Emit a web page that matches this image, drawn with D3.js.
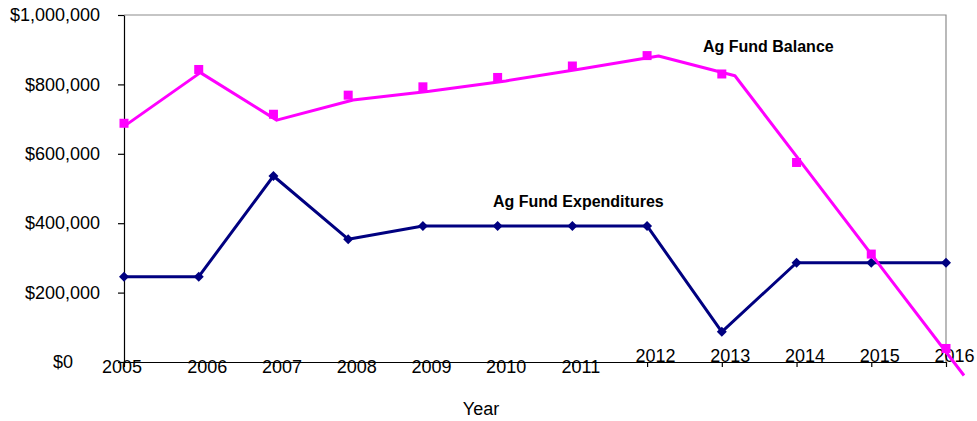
<!DOCTYPE html>
<html>
<head>
<meta charset="utf-8">
<script src="https://cdn.jsdelivr.net/npm/d3@7/dist/d3.min.js"></script>
<style>
  html, body { margin: 0; padding: 0; background: #fff; }
  svg { display: block; font-family: "Liberation Sans", Arial, sans-serif; }
</style>
</head>
<body>
<svg id="chart" width="977" height="421"></svg>
<script>
// ---- data ----
const years = [2005, 2006, 2007, 2008, 2009, 2010, 2011, 2012, 2013, 2014, 2015, 2016];
const expenditures = [246000, 246000, 536000, 354000, 392000, 392000, 392000, 392000, 87000, 286000, 286000, 286000];
const balanceMarkers = [688000, 843000, 714000, 769000, 793000, 820000, 853000, 883000, 830000, 575000, 311000, 39000];
const balanceLine = [679000, 834000, 697000, 755000, 780000, 810000, 845000, 882000, 825000, 537000, 249000, -39000];
const yTicks = [0, 200000, 400000, 600000, 800000, 1000000];
const labelBalance = "Ag Fund Balance";
const labelExpend = "Ag Fund Expenditures";
const xTitle = "Year";

// ---- layout ----
const plotL = 124, plotR = 946, plotT = 15, plotB = 362;
const svg = d3.select("#chart");

const x = d3.scaleLinear().domain([2005, 2016]).range([plotL, plotR]);
const xLine = d3.scaleLinear().domain([2005, 2016]).range([plotL, 964]);
const y = d3.scaleLinear().domain([0, 1000000]).range([plotB, plotT]);

// plot border (top & right, gray)
svg.append("path")
  .attr("d", `M${plotL},${plotT}H${plotR}V${plotB}`)
  .attr("fill", "none").attr("stroke", "#8c8c8c").attr("stroke-width", 1.2);

// y axis
const yAxis = svg.append("g")
  .attr("transform", `translate(${plotL},0)`)
  .call(d3.axisLeft(y).tickValues(yTicks).tickSize(6).tickSizeOuter(0).tickPadding(18)
    .tickFormat(d3.format("$,")));
yAxis.selectAll("text").attr("font-size", 18).attr("fill", "#000")
  .attr("font-family", "Liberation Sans, Arial, sans-serif")
  .attr("dx", d => d === 0 ? -27 : 0);
yAxis.selectAll("line, path").attr("stroke", "#000").attr("stroke-width", 1.2);

// x axis
const xAxis = svg.append("g")
  .attr("transform", `translate(0,${plotB})`)
  .call(d3.axisBottom(x).tickValues(years).tickSize(5).tickSizeOuter(0).tickFormat(d3.format("d")));
xAxis.selectAll("line, path").attr("stroke", "#000").attr("stroke-width", 1.2);
xAxis.selectAll("text")
  .attr("font-size", 18).attr("fill", "#000")
  .attr("font-family", "Liberation Sans, Arial, sans-serif")
  .attr("dy", null)
  .attr("dx", (d, i) => i === 0 ? -2.5 : 8)
  .attr("y", (d, i) => i < 7 ? 10.5 : 0);

// x title
svg.append("text").attr("x", 481).attr("y", 415).attr("text-anchor", "middle")
  .attr("font-size", 18).attr("fill", "#000").text(xTitle);

// expenditures line
svg.append("path")
  .datum(years.map((yr, i) => [yr, expenditures[i]]))
  .attr("fill", "none").attr("stroke", "#000080").attr("stroke-width", 3)
  .attr("stroke-linejoin", "round")
  .attr("d", d3.line().x(d => x(d[0])).y(d => y(d[1])));
svg.append("g").selectAll("path")
  .data(years.map((yr, i) => [yr, expenditures[i]]))
  .join("path")
  .attr("d", "M0,-5L5,0L0,5L-5,0Z")
  .attr("fill", "#000080")
  .attr("transform", d => `translate(${x(d[0])},${y(d[1])})`);

// balance markers
svg.append("g").selectAll("rect")
  .data(years.map((yr, i) => [yr, balanceMarkers[i]]))
  .join("rect")
  .attr("x", d => x(d[0]) - 4.5).attr("y", d => y(d[1]) - 4.5)
  .attr("width", 9).attr("height", 9)
  .attr("fill", "#ff00ff");

// balance line
svg.append("path")
  .datum(years.map((yr, i) => [yr, balanceLine[i]]))
  .attr("fill", "none").attr("stroke", "#ff00ff").attr("stroke-width", 3)
  .attr("stroke-linejoin", "round")
  .attr("d", d3.line().x(d => xLine(d[0])).y(d => y(d[1])));

// annotations
svg.append("text").attr("x", 703).attr("y", 52).attr("font-size", 16).attr("font-weight", "bold")
  .attr("fill", "#000").text(labelBalance);
svg.append("text").attr("x", 493).attr("y", 207).attr("font-size", 16).attr("font-weight", "bold")
  .attr("fill", "#000").text(labelExpend);
</script>
</body>
</html>
